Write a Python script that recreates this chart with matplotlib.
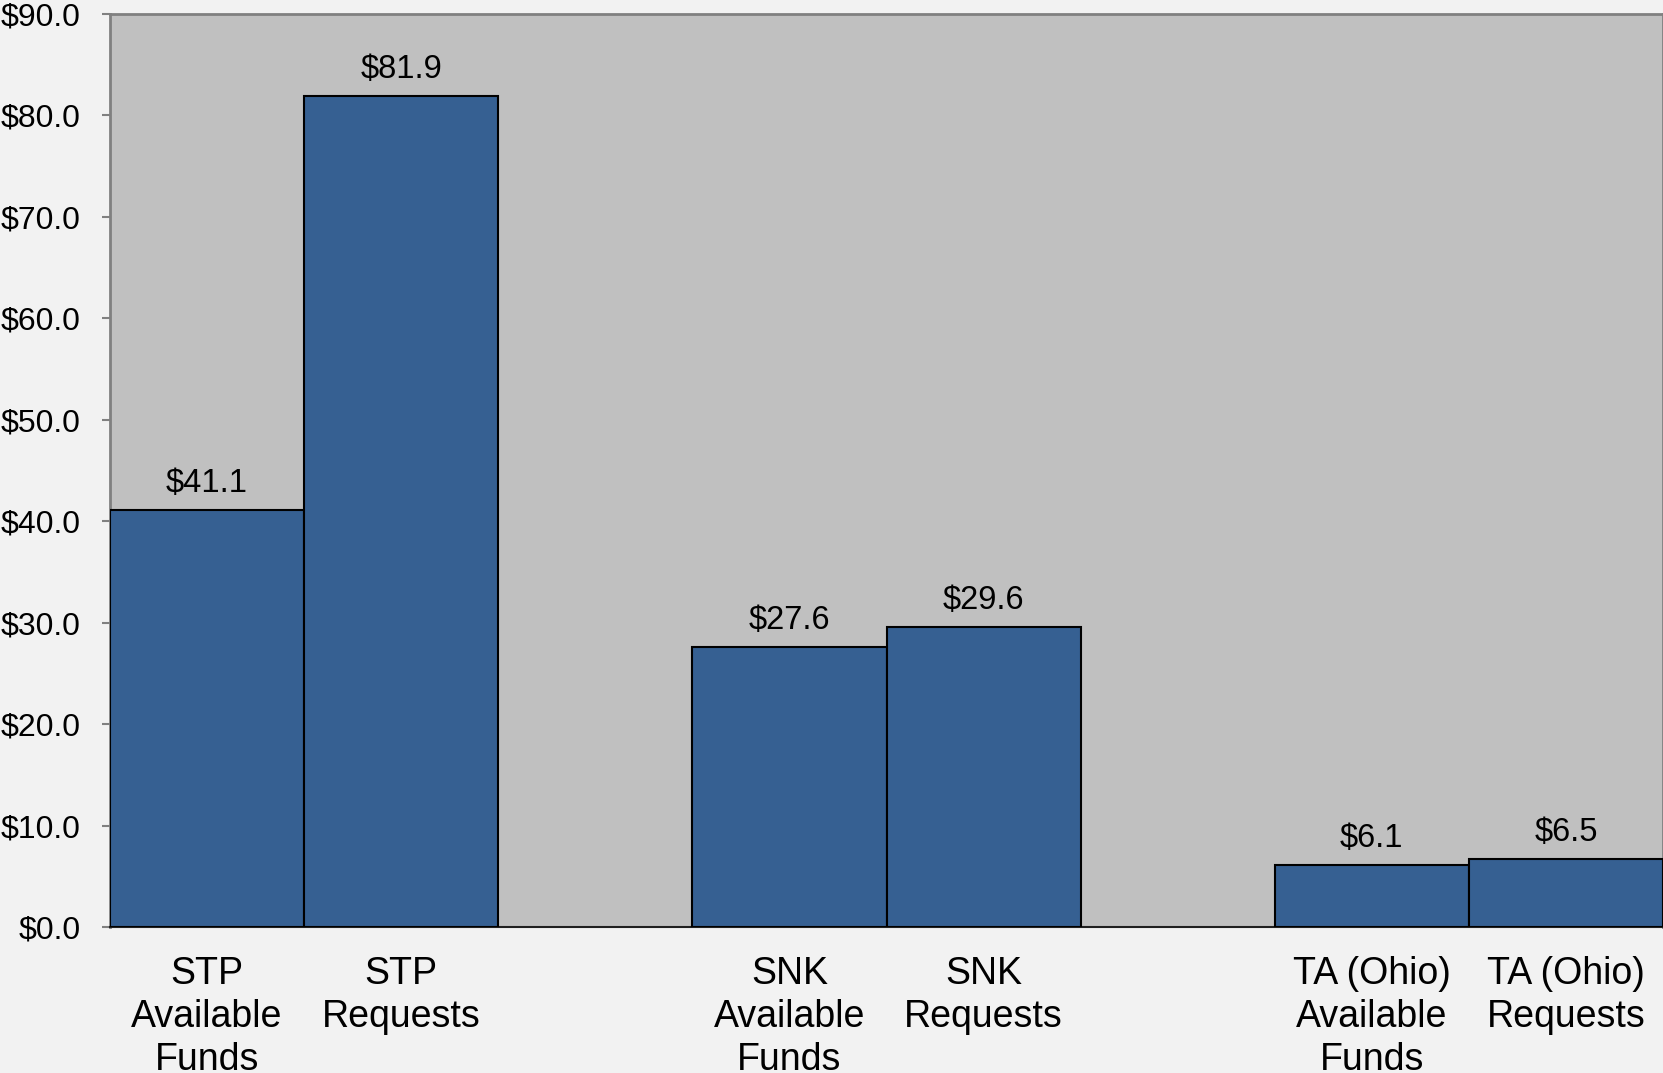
import matplotlib
matplotlib.use("Agg")
import matplotlib.pyplot as plt
from matplotlib.ticker import FuncFormatter

categories = ["STP\nAvailable\nFunds", "STP\nRequests",
              "SNK\nAvailable\nFunds", "SNK\nRequests",
              "TA (Ohio)\nAvailable\nFunds", "TA (Ohio)\nRequests"]
slots = [0, 1, 3, 4, 6, 7]
values = [41.1, 81.9, 27.6, 29.6, 6.1, 6.7]
value_labels = ["$41.1", "$81.9", "$27.6", "$29.6", "$6.1", "$6.5"]
yticks = [0, 10, 20, 30, 40, 50, 60, 70, 80, 90]

plt.rcParams['font.family'] = ['Liberation Sans', 'DejaVu Sans']

W, H = 1663, 1073
fig = plt.figure(figsize=(W / 100, H / 100), dpi=100, facecolor="#f2f2f2")
ax = fig.add_axes([110 / W, 1 - 927 / H, (W - 110) / W, (927 - 14) / H])
ax.set_facecolor("#c0c0c0")

bars = ax.bar(slots, values, width=1.0, color="#366092", edgecolor="black",
              linewidth=1.5, zorder=3)
for b, lab in zip(bars, value_labels):
    ax.annotate(lab, (b.get_x() + b.get_width() / 2, b.get_height()),
                xytext=(0, 8), textcoords="offset points",
                ha="center", va="bottom", fontsize=23.5)

ax.set_xlim(-0.5, 7.5)
ax.set_ylim(0, 90)
ax.set_yticks(yticks)
ax.yaxis.set_major_formatter(FuncFormatter(lambda v, p: f"${v:.1f}"))
ax.set_xticks(slots)
ax.set_xticklabels(categories, fontsize=27, linespacing=1.25)
ax.tick_params(axis="x", length=0, pad=21)
ax.tick_params(axis="y", length=6, width=1.5, color="#808080",
               labelsize=23, pad=15)

for s in ["left", "top", "right"]:
    ax.spines[s].set_color("#808080")
    ax.spines[s].set_linewidth(2)
ax.spines["bottom"].set_color("#202020")
ax.spines["bottom"].set_linewidth(1.5)

fig.savefig("out.png", dpi=100, facecolor=fig.get_facecolor())
